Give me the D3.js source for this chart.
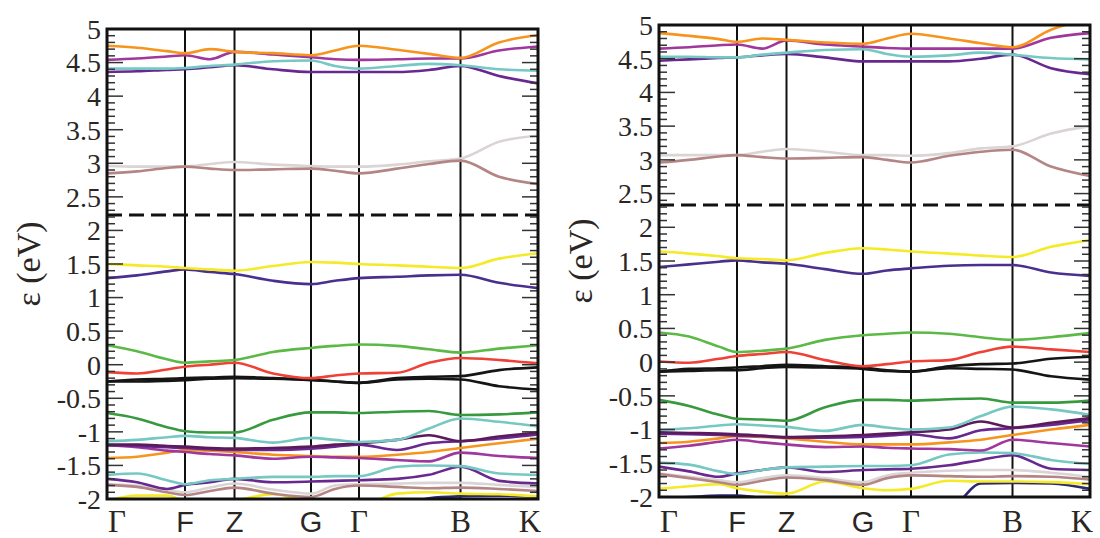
<!DOCTYPE html>
<html><head><meta charset="utf-8">
<script src="https://cdn.jsdelivr.net/npm/d3@7"></script>
<style>body{margin:0;background:#fff;} svg{display:block}</style>
</head><body><svg id="c" width="1100" height="538"></svg>
<script>
// ---------- data ----------
const kLabels = ["Γ","F","Z","G","Γ","B","K"];
const kPos = [0, 78, 127.5, 204, 252, 353.5, 431];
const kSample = [0, 30, 60, 78, 103, 127.5, 166, 204, 228, 252, 290, 322, 353.5, 392, 431];
const yTickLabels = [5, 4.5, 4, 3.5, 3, 2.5, 2, 1.5, 1, 0.5, 0, -0.5, -1, -1.5, -2];
const yDomain = [-2, 5];
const fermiLeft = 2.23;
const fermiRight = 2.33;

// left panel bands (values at kSample)
const L_orangeUp  = [4.75,4.72,4.67,4.64,4.70,4.66,4.64,4.61,4.68,4.75,4.69,4.63,4.57,4.80,4.91];
const L_magentaUp = [4.54,4.56,4.59,4.61,4.55,4.66,4.62,4.58,4.55,4.54,4.55,4.56,4.56,4.68,4.74];
const L_tealUp    = [4.41,4.41,4.41,4.42,4.45,4.47,4.52,4.53,4.45,4.41,4.45,4.48,4.46,4.40,4.38];
const L_purpleUp  = [4.36,4.37,4.39,4.40,4.43,4.46,4.40,4.36,4.36,4.36,4.36,4.39,4.45,4.30,4.19];
const L_grayUp    = [2.96,2.95,2.95,2.95,2.99,3.02,2.98,2.96,2.95,2.95,2.98,3.03,3.07,3.32,3.41];
const L_brownUp   = [2.85,2.88,2.93,2.95,2.92,2.90,2.91,2.92,2.89,2.85,2.92,2.99,3.04,2.80,2.69];
const L_yellow    = [1.50,1.48,1.46,1.44,1.42,1.40,1.47,1.53,1.52,1.50,1.48,1.46,1.44,1.58,1.66];
const L_indigo    = [1.29,1.33,1.39,1.42,1.38,1.35,1.25,1.20,1.25,1.29,1.31,1.33,1.34,1.22,1.14];
const L_green     = [0.29,0.20,0.08,0.03,0.05,0.07,0.19,0.25,0.28,0.30,0.28,0.23,0.18,0.24,0.29];
const L_red       = [-0.11,-0.13,-0.07,-0.03,0.00,0.03,-0.13,-0.20,-0.16,-0.13,-0.12,0.03,0.10,0.07,0.02];
const L_blackA    = [-0.25,-0.22,-0.21,-0.20,-0.19,-0.18,-0.20,-0.22,-0.25,-0.27,-0.20,-0.18,-0.17,-0.08,-0.04];
const L_blackB    = [-0.25,-0.25,-0.24,-0.23,-0.21,-0.20,-0.21,-0.23,-0.25,-0.27,-0.22,-0.21,-0.22,-0.32,-0.37];
const L_darkGreen = [-0.72,-0.80,-0.93,-0.99,-1.01,-1.01,-0.82,-0.71,-0.71,-0.72,-0.70,-0.69,-0.75,-0.74,-0.71];
const L_tealMid   = [-1.14,-1.12,-1.08,-1.06,-1.08,-1.09,-1.16,-1.09,-1.12,-1.15,-1.12,-0.95,-0.80,-0.85,-0.92];
const L_wine      = [-1.19,-1.19,-1.21,-1.22,-1.24,-1.25,-1.24,-1.22,-1.19,-1.17,-1.12,-1.05,-1.14,-1.07,-1.01];
const L_purpleMid = [-1.20,-1.21,-1.23,-1.24,-1.26,-1.27,-1.27,-1.25,-1.22,-1.19,-1.27,-1.17,-1.14,-1.10,-1.04];
const L_magentaMid= [-1.20,-1.23,-1.28,-1.30,-1.33,-1.35,-1.40,-1.37,-1.38,-1.39,-1.42,-1.44,-1.31,-1.36,-1.39];
const L_orangeMid = [-1.39,-1.37,-1.31,-1.27,-1.28,-1.30,-1.34,-1.36,-1.37,-1.37,-1.34,-1.30,-1.24,-1.17,-1.10];
const L_tealLow   = [-1.64,-1.62,-1.72,-1.78,-1.72,-1.70,-1.67,-1.67,-1.66,-1.66,-1.52,-1.50,-1.51,-1.62,-1.64];
const L_purpleLow = [-1.70,-1.75,-1.85,-1.79,-1.75,-1.70,-1.75,-1.74,-1.73,-1.72,-1.70,-1.64,-1.52,-1.73,-1.77];
const L_grayLow   = [-1.78,-1.80,-1.86,-1.90,-1.83,-1.77,-1.86,-1.92,-1.80,-1.78,-1.77,-1.76,-1.76,-1.79,-1.82];
const L_brownLow  = [-1.79,-1.82,-1.90,-1.94,-1.88,-1.83,-1.92,-1.97,-1.85,-1.80,-1.82,-1.84,-1.83,-1.85,-1.88];
const L_yellowLow = [-2.03,-1.95,-1.95,-2.03,-2.05,-2.02,-1.93,-2.05,-2.10,-2.10,-1.92,-1.90,-1.92,-1.93,-1.96];
const L_navyLow   = [-2.30,-2.30,-2.30,-2.30,-2.30,-2.30,-2.30,-2.30,-2.30,-2.30,-2.15,-1.99,-1.96,-1.95,-1.97];

// right panel bands
const R_orangeUp  = [4.88,4.84,4.79,4.75,4.80,4.78,4.74,4.72,4.80,4.87,4.80,4.73,4.67,4.93,5.10];
const R_magentaUp = [4.65,4.67,4.70,4.71,4.65,4.77,4.71,4.68,4.66,4.65,4.65,4.65,4.65,4.81,4.88];
const R_tealUp    = [4.53,4.53,4.52,4.52,4.56,4.59,4.63,4.64,4.57,4.53,4.55,4.59,4.56,4.51,4.49];
const R_purpleUp  = [4.47,4.49,4.51,4.52,4.55,4.57,4.52,4.46,4.46,4.46,4.46,4.50,4.56,4.36,4.27];
const R_grayUp    = [3.07,3.07,3.07,3.07,3.12,3.16,3.12,3.07,3.07,3.06,3.10,3.17,3.20,3.39,3.50];
const R_brownUp   = [2.96,3.00,3.05,3.07,3.04,3.02,3.03,3.04,3.00,2.96,3.06,3.12,3.15,2.90,2.76];
const R_yellow    = [1.64,1.61,1.57,1.54,1.53,1.51,1.62,1.69,1.67,1.64,1.61,1.58,1.56,1.71,1.81];
const R_indigo    = [1.41,1.45,1.49,1.51,1.48,1.46,1.38,1.31,1.36,1.39,1.43,1.44,1.44,1.33,1.28];
const R_green     = [0.44,0.38,0.23,0.15,0.17,0.20,0.33,0.40,0.42,0.44,0.42,0.37,0.33,0.37,0.43];
const R_red       = [0.01,-0.01,0.05,0.09,0.12,0.15,0.03,-0.06,-0.03,0.01,0.03,0.15,0.23,0.19,0.15];
const R_blackA    = [-0.14,-0.10,-0.09,-0.08,-0.06,-0.04,-0.06,-0.08,-0.12,-0.14,-0.06,-0.03,-0.02,0.05,0.08];
const R_blackB    = [-0.14,-0.13,-0.12,-0.12,-0.09,-0.07,-0.08,-0.10,-0.13,-0.14,-0.09,-0.10,-0.11,-0.21,-0.26];
const R_darkGreen = [-0.56,-0.65,-0.78,-0.84,-0.85,-0.87,-0.67,-0.56,-0.56,-0.57,-0.55,-0.54,-0.60,-0.60,-0.57];
const R_tealMid   = [-1.00,-0.98,-0.94,-0.92,-0.94,-0.96,-1.02,-0.93,-0.97,-1.00,-0.97,-0.80,-0.66,-0.70,-0.78];
const R_wine      = [-1.04,-1.05,-1.06,-1.07,-1.09,-1.11,-1.10,-1.08,-1.06,-1.04,-1.00,-0.88,-0.97,-0.90,-0.83];
const R_purpleMid = [-1.06,-1.07,-1.08,-1.09,-1.10,-1.12,-1.12,-1.11,-1.09,-1.07,-1.13,-1.01,-0.98,-0.93,-0.86];
const R_magentaMid= [-1.28,-1.24,-1.18,-1.15,-1.19,-1.22,-1.26,-1.25,-1.27,-1.28,-1.29,-1.31,-1.15,-1.20,-1.25];
const R_orangeMid = [-1.20,-1.18,-1.13,-1.10,-1.11,-1.13,-1.18,-1.22,-1.22,-1.22,-1.19,-1.15,-1.08,-1.00,-0.93];
const R_tealLow   = [-1.49,-1.52,-1.62,-1.66,-1.60,-1.56,-1.55,-1.54,-1.54,-1.53,-1.37,-1.34,-1.35,-1.45,-1.51];
const R_purpleLow = [-1.55,-1.62,-1.70,-1.65,-1.60,-1.56,-1.63,-1.60,-1.59,-1.58,-1.53,-1.45,-1.38,-1.58,-1.60];
const R_grayLow   = [-1.65,-1.70,-1.75,-1.78,-1.72,-1.68,-1.72,-1.78,-1.68,-1.64,-1.61,-1.60,-1.60,-1.64,-1.70];
const R_brownLow  = [-1.66,-1.72,-1.78,-1.82,-1.76,-1.71,-1.75,-1.82,-1.72,-1.68,-1.69,-1.70,-1.69,-1.70,-1.74];
const R_yellowLow = [-1.88,-1.84,-1.81,-1.87,-1.92,-1.95,-1.77,-1.87,-1.90,-1.88,-1.76,-1.77,-1.77,-1.78,-1.81];
const R_navyLow   = [-2.02,-2.00,-1.98,-1.98,-2.02,-2.10,-2.30,-2.30,-2.30,-2.30,-2.20,-1.80,-1.79,-1.80,-1.88];

// ---------- styles ----------
const C = {
  orange:"#f7941d", magenta:"#a0379c", teal:"#76c8c3", purple:"#68288f",
  gray:"#dad4d4", brown:"#b38585", yellow:"#f4ea26", indigo:"#4b2f8f",
  green:"#5cb946", red:"#ef4136", black:"#151515", dgreen:"#389a3e",
  wine:"#5b1a5c", navy:"#2d2873"
};
const leftBands = [
  [L_navyLow,C.navy],[L_yellowLow,C.yellow],[L_grayLow,C.gray],[L_brownLow,C.brown],
  [L_purpleLow,C.purple],[L_tealLow,C.teal],[L_orangeMid,C.orange],[L_magentaMid,C.magenta],
  [L_purpleMid,C.purple],[L_wine,C.wine],[L_tealMid,C.teal],[L_darkGreen,C.dgreen],
  [L_blackB,C.black],[L_blackA,C.black],[L_red,C.red],[L_green,C.green],
  [L_indigo,C.indigo],[L_yellow,C.yellow],[L_grayUp,C.gray],[L_brownUp,C.brown],
  [L_purpleUp,C.purple],[L_tealUp,C.teal],[L_magentaUp,C.magenta],[L_orangeUp,C.orange]
];
const rightBands = [
  [R_navyLow,C.navy],[R_yellowLow,C.yellow],[R_grayLow,C.gray],[R_brownLow,C.brown],
  [R_purpleLow,C.purple],[R_tealLow,C.teal],[R_orangeMid,C.orange],[R_magentaMid,C.magenta],
  [R_purpleMid,C.purple],[R_wine,C.wine],[R_tealMid,C.teal],[R_darkGreen,C.dgreen],
  [R_blackB,C.black],[R_blackA,C.black],[R_red,C.red],[R_green,C.green],
  [R_indigo,C.indigo],[R_yellow,C.yellow],[R_grayUp,C.gray],[R_brownUp,C.brown],
  [R_purpleUp,C.purple],[R_tealUp,C.teal],[R_magentaUp,C.magenta],[R_orangeUp,C.orange]
];

const svg = d3.select("#c");
const serif = "'Liberation Serif','Times New Roman',serif";
const sans = "'Liberation Sans',Arial,sans-serif";
const textCol = "#2a2624";

function panel(id, box, bands, fermi, titleX) {
  const x = d3.scaleLinear().domain([0, kPos[kPos.length-1]]).range([box.x0, box.x1]);
  const y = d3.scaleLinear().domain(yDomain).range([box.y1, box.y0]);
  const g = svg.append("g");
  g.append("clipPath").attr("id", id).append("rect")
    .attr("x", box.x0).attr("y", box.y0).attr("width", box.x1-box.x0).attr("height", box.y1-box.y0);

  // vertical symmetry lines
  g.selectAll(".vl").data(kPos.slice(1, -1)).enter().append("line")
    .attr("x1", d=>x(d)).attr("x2", d=>x(d)).attr("y1", box.y0).attr("y2", box.y1)
    .attr("stroke", "#111").attr("stroke-width", 2);

  const line = d3.line().x((d,i)=>x(kSample[i])).y(d=>y(d)).curve(d3.curveMonotoneX);
  const bg = g.append("g").attr("clip-path", `url(#${id})`);
  bands.forEach(([vals, col]) => {
    bg.append("path").attr("d", line(vals)).attr("fill","none")
      .attr("stroke", col).attr("stroke-width", 2.6).attr("stroke-linejoin","round");
  });

  // Fermi level dashed line
  g.append("line").attr("x1", box.x0).attr("x2", box.x1).attr("y1", y(fermi)).attr("y2", y(fermi))
    .attr("stroke", "#111").attr("stroke-width", 3).attr("stroke-dasharray", "15,7");

  // minor and major ticks on both sides, pointing inward
  const minor = d3.range(-20, 51).map(i => i/10).filter(v => Math.abs(v*2 - Math.round(v*2)) > 1e-6);
  [[box.x0, 1], [box.x1, -1]].forEach(([xx, dir]) => {
    g.selectAll(null).data(minor).enter().append("line")
      .attr("x1", xx).attr("x2", xx + dir*8).attr("y1", d=>y(d)).attr("y2", d=>y(d))
      .attr("stroke", "#333").attr("stroke-width", 1.5);
    g.selectAll(null).data(yTickLabels).enter().append("line")
      .attr("x1", xx).attr("x2", xx + dir*16).attr("y1", d=>y(d)).attr("y2", d=>y(d))
      .attr("stroke", "#333").attr("stroke-width", 1.5);
  });

  // tick labels
  g.selectAll(null).data(yTickLabels).enter().append("text")
    .attr("x", box.x0 - 6).attr("y", d=>y(d)).attr("dy", "0.35em")
    .attr("text-anchor", "end").attr("font-family", serif).attr("font-size", 28)
    .attr("fill", textCol).text(d => d3.format("")(d).replace("−","-"));

  // frame
  g.append("rect").attr("x", box.x0).attr("y", box.y0).attr("width", box.x1-box.x0).attr("height", box.y1-box.y0)
    .attr("fill","none").attr("stroke","#111").attr("stroke-width",3);

  // x labels
  const sansSet = new Set(["F","Z","G"]);
  g.selectAll(null).data(kLabels).enter().append("text")
    .attr("x", (d,i) => x(kPos[i]) + (i===0 ? 10 : i===kLabels.length-1 ? -8 : 0))
    .attr("y", 532)
    .attr("text-anchor", "middle")
    .attr("font-family", d => sansSet.has(d) ? sans : serif)
    .attr("font-size", d => sansSet.has(d) ? 29 : 31)
    .attr("fill", textCol).text(d => d);

  // y title
  g.append("text").attr("transform", `translate(${titleX},${(box.y0+box.y1)/2}) rotate(-90)`)
    .attr("text-anchor","middle").attr("font-family", serif).attr("font-size", 34)
    .attr("fill", textCol).text("ε (eV)");
}

panel("clipL", {x0:107, x1:538, y0:29, y1:499}, leftBands, fermiLeft, 40);
panel("clipR", {x0:659, x1:1090, y0:25, y1:497}, rightBands, fermiRight, 592);
</script></body></html>
